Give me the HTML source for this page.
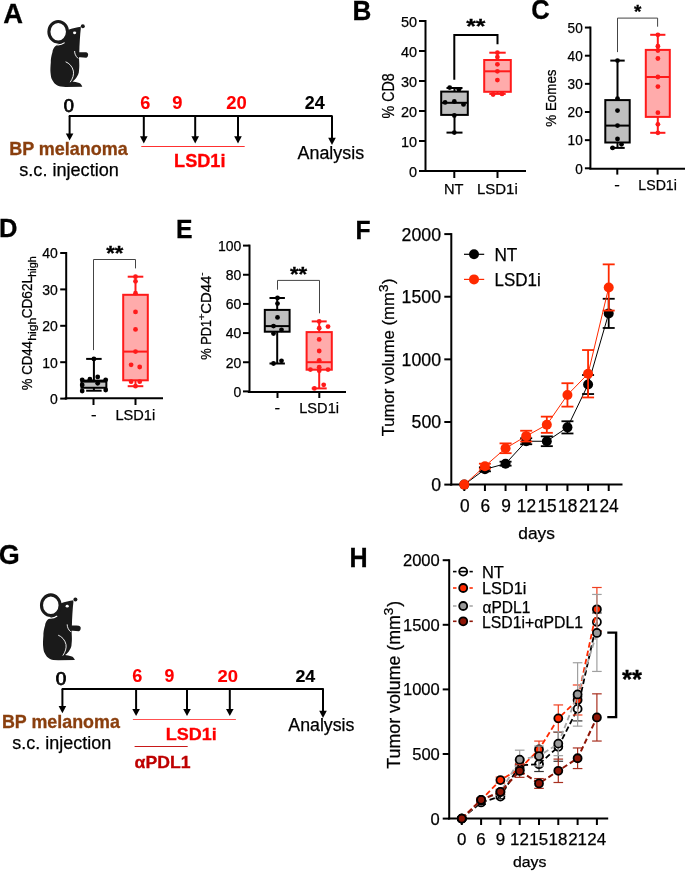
<!DOCTYPE html>
<html><head><meta charset="utf-8"><style>
html,body{margin:0;padding:0;background:#fff;}
svg{display:block;will-change:transform;}
text{font-family:"Liberation Sans",sans-serif;}
</style></head><body>
<svg width="685" height="872" viewBox="0 0 685 872">
<rect width="685" height="872" fill="#fff"/>
<text transform="translate(3.32,23.20) scale(0.1)" x="0" y="0" font-size="270.00" font-weight="bold" fill="#000" stroke="#000" stroke-width="3.00" textLength="197.25" lengthAdjust="spacingAndGlyphs">A</text>
<g transform="translate(0,0) scale(1.0)">
<path d="M55,46.4 C53.5,48 52.6,50 52.5,51.9 C51.2,56 50.7,60 50.8,62.2 C50.4,67 50.3,70 50.5,72.5 C50.8,76 51.2,78 51.9,79.3 C53,81.5 54,83 55.3,84.1 C57,85.5 59,86.3 60.8,86.5 L65.6,86.9 L82.3,86.7 C81.7,85 80.7,83.8 79.3,83.1 C77,82.2 74,82.0 72.5,81.6 C74.5,80.2 76,78.5 76.6,77.3 C78,75 78.6,73.5 78.8,72.5 C79.2,69 79.3,67 79.3,65.6 C79.3,62 79.1,60 79.0,58 L79.3,51.9 C79.5,45 80,35 80.9,27.8 L80.9,26.8 C77,27.4 72,28.6 68.5,29.8 L64,38 L58,44 Z" fill="#1a1a1a"/>
<path d="M64.6,42.6 A11.8,12.8 0 0 1 48.9,40.3" fill="none" stroke="#fff" stroke-width="1.1"/>
<ellipse cx="58.2" cy="31.8" rx="9.3" ry="10.3" fill="#fff" stroke="#1a1a1a" stroke-width="3.1"/>
<circle cx="82.8" cy="26.2" r="2.0" fill="#1a1a1a"/>
<path d="M80.6,27.3 L81.6,28.2" stroke="#fff" stroke-width="0.6"/>
<ellipse cx="74.6" cy="32.8" rx="1.6" ry="1.35" fill="#fff"/>
<path d="M75.9,51.9 C79,52.3 83,52.2 86.2,52.3 C87.8,52.6 88.5,54 88.0,55.5 C87.7,56.8 87,57.6 86.2,57.8 C83.5,57.4 80,57.1 77.3,57.5 Z" fill="#1a1a1a"/>
<path d="M74.6,51.0 C74.6,53.5 75.5,56.2 78.2,58.5" fill="none" stroke="#fff" stroke-width="0.9"/>
<path d="M65.6,61.8 C69,63 72.5,66.5 73.4,71.1 C74,74.5 72.8,78.5 70.2,82.2" fill="none" stroke="#fff" stroke-width="0.9"/>
</g>
<line x1="68.80" y1="116.00" x2="332.60" y2="116.00" stroke="#000" stroke-width="2"/>
<line x1="69.60" y1="116.00" x2="69.60" y2="134.40" stroke="#000" stroke-width="2"/>
<path d="M65.80,133.40 L73.40,133.40 L69.60,140.60 Z" fill="#000" stroke="none" stroke-width="0"/>
<line x1="143.80" y1="116.00" x2="143.80" y2="137.30" stroke="#000" stroke-width="2"/>
<path d="M140.00,136.30 L147.60,136.30 L143.80,143.50 Z" fill="#000" stroke="none" stroke-width="0"/>
<line x1="195.20" y1="116.00" x2="195.20" y2="137.30" stroke="#000" stroke-width="2"/>
<path d="M191.40,136.30 L199.00,136.30 L195.20,143.50 Z" fill="#000" stroke="none" stroke-width="0"/>
<line x1="238.00" y1="116.00" x2="238.00" y2="137.30" stroke="#000" stroke-width="2"/>
<path d="M234.20,136.30 L241.80,136.30 L238.00,143.50 Z" fill="#000" stroke="none" stroke-width="0"/>
<line x1="332.00" y1="116.00" x2="332.00" y2="138.80" stroke="#000" stroke-width="2"/>
<path d="M328.20,137.80 L335.80,137.80 L332.00,145.00 Z" fill="#000" stroke="none" stroke-width="0"/>
<text transform="translate(63.87,111.60) scale(0.1)" x="0" y="0" font-size="175.00" fill="#000" stroke="#000" stroke-width="7.50" textLength="101.96" lengthAdjust="spacingAndGlyphs">0</text>
<text transform="translate(140.26,109.10) scale(0.1)" x="0" y="0" font-size="179.00" font-weight="bold" fill="#FF0000" stroke="#FF0000" stroke-width="1.00" textLength="100.91" lengthAdjust="spacingAndGlyphs">6</text>
<text transform="translate(172.36,109.10) scale(0.1)" x="0" y="0" font-size="179.00" font-weight="bold" fill="#FF0000" stroke="#FF0000" stroke-width="1.00" textLength="102.06" lengthAdjust="spacingAndGlyphs">9</text>
<text transform="translate(226.25,109.10) scale(0.1)" x="0" y="0" font-size="180.00" font-weight="bold" fill="#FF0000" stroke="#FF0000" stroke-width="1.00" textLength="205.27" lengthAdjust="spacingAndGlyphs">20</text>
<text transform="translate(304.67,108.90) scale(0.1)" x="0" y="0" font-size="175.00" font-weight="bold" fill="#000" stroke="#000" stroke-width="1.00" textLength="199.60" lengthAdjust="spacingAndGlyphs">24</text>
<line x1="141.30" y1="146.50" x2="244.70" y2="146.50" stroke="#FF3030" stroke-width="1"/>
<text transform="translate(174.12,166.60) scale(0.1)" x="0" y="0" font-size="175.00" font-weight="bold" fill="#FF0000" stroke="#FF0000" stroke-width="3.00" textLength="513.28" lengthAdjust="spacingAndGlyphs">LSD1i</text>
<text transform="translate(9.13,155.40) scale(0.1)" x="0" y="0" font-size="177.00" font-weight="bold" fill="#8A3F0E" stroke="#8A3F0E" stroke-width="3.00" textLength="1186.95" lengthAdjust="spacingAndGlyphs">BP melanoma</text>
<text transform="translate(19.26,176.40) scale(0.1)" x="0" y="0" font-size="175.00" fill="#000" stroke="#000" stroke-width="2.50" textLength="995.64" lengthAdjust="spacingAndGlyphs">s.c. injection</text>
<text transform="translate(297.50,158.80) scale(0.1)" x="0" y="0" font-size="180.00" fill="#000" stroke="#000" stroke-width="2.50" textLength="666.04" lengthAdjust="spacingAndGlyphs">Analysis</text>
<text transform="translate(352.51,20.40) scale(0.1)" x="0" y="0" font-size="270.00" font-weight="bold" fill="#000" stroke="#000" stroke-width="3.00" textLength="188.24" lengthAdjust="spacingAndGlyphs">B</text>
<line x1="425.50" y1="20.00" x2="425.50" y2="172.00" stroke="#000" stroke-width="2"/>
<line x1="419.00" y1="171.00" x2="425.50" y2="171.00" stroke="#000" stroke-width="2"/>
<text transform="translate(408.96,176.50) scale(0.1)" x="0" y="0" font-size="155.00" fill="#000" stroke="#000" stroke-width="2.50" textLength="80.60" lengthAdjust="spacingAndGlyphs">0</text>
<line x1="419.00" y1="141.00" x2="425.50" y2="141.00" stroke="#000" stroke-width="2"/>
<text transform="translate(400.92,146.50) scale(0.1)" x="0" y="0" font-size="155.00" fill="#000" stroke="#000" stroke-width="2.50" textLength="161.21" lengthAdjust="spacingAndGlyphs">10</text>
<line x1="419.00" y1="111.00" x2="425.50" y2="111.00" stroke="#000" stroke-width="2"/>
<text transform="translate(400.92,116.50) scale(0.1)" x="0" y="0" font-size="155.00" fill="#000" stroke="#000" stroke-width="2.50" textLength="161.21" lengthAdjust="spacingAndGlyphs">20</text>
<line x1="419.00" y1="81.00" x2="425.50" y2="81.00" stroke="#000" stroke-width="2"/>
<text transform="translate(400.92,86.50) scale(0.1)" x="0" y="0" font-size="155.00" fill="#000" stroke="#000" stroke-width="2.50" textLength="161.21" lengthAdjust="spacingAndGlyphs">30</text>
<line x1="419.00" y1="51.00" x2="425.50" y2="51.00" stroke="#000" stroke-width="2"/>
<text transform="translate(400.92,56.50) scale(0.1)" x="0" y="0" font-size="155.00" fill="#000" stroke="#000" stroke-width="2.50" textLength="161.21" lengthAdjust="spacingAndGlyphs">40</text>
<line x1="419.00" y1="21.00" x2="425.50" y2="21.00" stroke="#000" stroke-width="2"/>
<text transform="translate(400.92,26.50) scale(0.1)" x="0" y="0" font-size="155.00" fill="#000" stroke="#000" stroke-width="2.50" textLength="161.21" lengthAdjust="spacingAndGlyphs">50</text>
<line x1="425.00" y1="171.00" x2="526.00" y2="171.00" stroke="#000" stroke-width="2"/>
<line x1="454.30" y1="171.00" x2="454.30" y2="178.00" stroke="#000" stroke-width="2"/>
<line x1="497.50" y1="171.00" x2="497.50" y2="178.00" stroke="#000" stroke-width="2"/>
<text transform="translate(444.03,194.00) scale(0.1)" x="0" y="0" font-size="152.00" fill="#000" stroke="#000" stroke-width="2.50" textLength="195.08" lengthAdjust="spacingAndGlyphs">NT</text>
<text transform="translate(476.90,194.00) scale(0.1)" x="0" y="0" font-size="152.00" fill="#000" stroke="#000" stroke-width="2.50" textLength="408.30" lengthAdjust="spacingAndGlyphs">LSD1i</text>
<text transform="translate(393.70,118.50) rotate(-90) scale(0.1)" x="0" y="0" font-size="158.00" fill="#000" stroke="#000" stroke-width="2.50" textLength="452.06" lengthAdjust="spacingAndGlyphs">% CD8</text>
<line x1="454.50" y1="88.00" x2="454.50" y2="132.60" stroke="#000" stroke-width="2"/>
<line x1="446.50" y1="88.00" x2="462.50" y2="88.00" stroke="#000" stroke-width="2"/>
<line x1="446.50" y1="132.60" x2="462.50" y2="132.60" stroke="#000" stroke-width="2"/>
<rect x="441.20" y="91.60" width="26.60" height="23.30" fill="#BFBFBF" stroke="#000" stroke-width="2"/>
<line x1="441.20" y1="102.80" x2="467.80" y2="102.80" stroke="#000" stroke-width="2"/>
<circle cx="449.70" cy="87.60" r="2.4" fill="#000" stroke="none" stroke-width="0"/>
<circle cx="458.90" cy="89.30" r="2.4" fill="#000" stroke="none" stroke-width="0"/>
<circle cx="445.10" cy="102.40" r="2.4" fill="#000" stroke="none" stroke-width="0"/>
<circle cx="454.30" cy="101.50" r="2.4" fill="#000" stroke="none" stroke-width="0"/>
<circle cx="463.50" cy="104.40" r="2.4" fill="#000" stroke="none" stroke-width="0"/>
<circle cx="454.30" cy="115.50" r="2.4" fill="#000" stroke="none" stroke-width="0"/>
<circle cx="454.30" cy="132.60" r="2.4" fill="#000" stroke="none" stroke-width="0"/>
<line x1="497.50" y1="52.70" x2="497.50" y2="93.90" stroke="#FF1A1A" stroke-width="2"/>
<line x1="489.30" y1="52.70" x2="505.70" y2="52.70" stroke="#FF1A1A" stroke-width="2"/>
<line x1="489.30" y1="93.90" x2="505.70" y2="93.90" stroke="#FF1A1A" stroke-width="2"/>
<rect x="484.20" y="60.00" width="26.60" height="31.80" fill="#FFABAB" stroke="#FF1A1A" stroke-width="2"/>
<line x1="484.20" y1="71.30" x2="510.80" y2="71.30" stroke="#FF1A1A" stroke-width="2"/>
<circle cx="497.40" cy="52.70" r="2.4" fill="#FF1A1A" stroke="none" stroke-width="0"/>
<circle cx="497.40" cy="57.10" r="2.4" fill="#FF1A1A" stroke="none" stroke-width="0"/>
<circle cx="497.40" cy="64.30" r="2.4" fill="#FF1A1A" stroke="none" stroke-width="0"/>
<circle cx="497.40" cy="71.30" r="2.4" fill="#FF1A1A" stroke="none" stroke-width="0"/>
<circle cx="497.40" cy="80.10" r="2.4" fill="#FF1A1A" stroke="none" stroke-width="0"/>
<circle cx="493.10" cy="94.50" r="2.4" fill="#FF1A1A" stroke="none" stroke-width="0"/>
<circle cx="502.00" cy="93.90" r="2.4" fill="#FF1A1A" stroke="none" stroke-width="0"/>
<path d="M454.3,79.8 L454.3,35.1 L497.5,35.1 L497.5,44.3" fill="none" stroke="#000" stroke-width="2"/>
<text transform="translate(466.28,33.11) scale(0.1)" x="0" y="0" font-size="197.30" font-weight="bold" fill="#000" stroke="#000" stroke-width="3.00" textLength="192.04" lengthAdjust="spacingAndGlyphs">**</text>
<text transform="translate(531.18,19.40) scale(0.1)" x="0" y="0" font-size="270.00" font-weight="bold" fill="#000" stroke="#000" stroke-width="3.00" textLength="184.13" lengthAdjust="spacingAndGlyphs">C</text>
<line x1="590.40" y1="26.55" x2="590.40" y2="169.30" stroke="#000" stroke-width="2"/>
<line x1="584.90" y1="168.30" x2="590.40" y2="168.30" stroke="#000" stroke-width="2"/>
<text transform="translate(575.13,173.59) scale(0.1)" x="0" y="0" font-size="149.00" fill="#000" stroke="#000" stroke-width="2.50" textLength="75.66" lengthAdjust="spacingAndGlyphs">0</text>
<line x1="584.90" y1="140.15" x2="590.40" y2="140.15" stroke="#000" stroke-width="2"/>
<text transform="translate(567.58,145.44) scale(0.1)" x="0" y="0" font-size="149.00" fill="#000" stroke="#000" stroke-width="2.50" textLength="151.32" lengthAdjust="spacingAndGlyphs">10</text>
<line x1="584.90" y1="112.00" x2="590.40" y2="112.00" stroke="#000" stroke-width="2"/>
<text transform="translate(567.58,117.29) scale(0.1)" x="0" y="0" font-size="149.00" fill="#000" stroke="#000" stroke-width="2.50" textLength="151.32" lengthAdjust="spacingAndGlyphs">20</text>
<line x1="584.90" y1="83.85" x2="590.40" y2="83.85" stroke="#000" stroke-width="2"/>
<text transform="translate(567.58,89.14) scale(0.1)" x="0" y="0" font-size="149.00" fill="#000" stroke="#000" stroke-width="2.50" textLength="151.32" lengthAdjust="spacingAndGlyphs">30</text>
<line x1="584.90" y1="55.70" x2="590.40" y2="55.70" stroke="#000" stroke-width="2"/>
<text transform="translate(567.58,60.99) scale(0.1)" x="0" y="0" font-size="149.00" fill="#000" stroke="#000" stroke-width="2.50" textLength="151.32" lengthAdjust="spacingAndGlyphs">40</text>
<line x1="584.90" y1="27.55" x2="590.40" y2="27.55" stroke="#000" stroke-width="2"/>
<text transform="translate(567.58,32.84) scale(0.1)" x="0" y="0" font-size="149.00" fill="#000" stroke="#000" stroke-width="2.50" textLength="151.32" lengthAdjust="spacingAndGlyphs">50</text>
<line x1="589.40" y1="168.80" x2="685.00" y2="168.80" stroke="#000" stroke-width="2"/>
<line x1="617.30" y1="168.80" x2="617.30" y2="174.60" stroke="#000" stroke-width="2"/>
<line x1="657.60" y1="168.80" x2="657.60" y2="174.60" stroke="#000" stroke-width="2"/>
<text transform="translate(614.35,190.10) scale(0.1)" x="0" y="0" font-size="146.00" fill="#000" stroke="#000" stroke-width="2.50" textLength="55.73" lengthAdjust="spacingAndGlyphs">-</text>
<text transform="translate(638.37,190.10) scale(0.1)" x="0" y="0" font-size="146.00" fill="#000" stroke="#000" stroke-width="2.50" textLength="385.03" lengthAdjust="spacingAndGlyphs">LSD1i</text>
<text transform="translate(555.90,126.67) rotate(-90) scale(0.1)" x="0" y="0" font-size="138.00" fill="#000" stroke="#000" stroke-width="2.50" textLength="572.28" lengthAdjust="spacingAndGlyphs">% Eomes</text>
<line x1="617.50" y1="60.60" x2="617.50" y2="147.90" stroke="#000" stroke-width="2"/>
<line x1="610.30" y1="60.60" x2="624.70" y2="60.60" stroke="#000" stroke-width="2"/>
<line x1="610.30" y1="147.90" x2="624.70" y2="147.90" stroke="#000" stroke-width="2"/>
<rect x="605.30" y="100.10" width="24.40" height="42.40" fill="#BFBFBF" stroke="#000" stroke-width="2"/>
<line x1="605.30" y1="125.60" x2="629.70" y2="125.60" stroke="#000" stroke-width="2"/>
<circle cx="617.50" cy="60.60" r="2.4" fill="#000" stroke="none" stroke-width="0"/>
<circle cx="617.50" cy="98.60" r="2.4" fill="#000" stroke="none" stroke-width="0"/>
<circle cx="617.50" cy="110.60" r="2.4" fill="#000" stroke="none" stroke-width="0"/>
<circle cx="617.50" cy="125.60" r="2.4" fill="#000" stroke="none" stroke-width="0"/>
<circle cx="617.50" cy="139.00" r="2.4" fill="#000" stroke="none" stroke-width="0"/>
<circle cx="612.60" cy="147.90" r="2.4" fill="#000" stroke="none" stroke-width="0"/>
<circle cx="621.50" cy="144.30" r="2.4" fill="#000" stroke="none" stroke-width="0"/>
<line x1="657.80" y1="34.80" x2="657.80" y2="132.80" stroke="#FF1A1A" stroke-width="2"/>
<line x1="650.20" y1="34.80" x2="665.40" y2="34.80" stroke="#FF1A1A" stroke-width="2"/>
<line x1="650.20" y1="132.80" x2="665.40" y2="132.80" stroke="#FF1A1A" stroke-width="2"/>
<rect x="645.80" y="49.90" width="24.00" height="67.00" fill="#FFABAB" stroke="#FF1A1A" stroke-width="2"/>
<line x1="645.80" y1="77.00" x2="669.80" y2="77.00" stroke="#FF1A1A" stroke-width="2"/>
<circle cx="657.90" cy="34.80" r="2.4" fill="#FF1A1A" stroke="none" stroke-width="0"/>
<circle cx="657.90" cy="46.20" r="2.4" fill="#FF1A1A" stroke="none" stroke-width="0"/>
<circle cx="657.90" cy="50.50" r="2.4" fill="#FF1A1A" stroke="none" stroke-width="0"/>
<circle cx="657.90" cy="58.50" r="2.4" fill="#FF1A1A" stroke="none" stroke-width="0"/>
<circle cx="657.90" cy="77.00" r="2.4" fill="#FF1A1A" stroke="none" stroke-width="0"/>
<circle cx="657.90" cy="86.60" r="2.4" fill="#FF1A1A" stroke="none" stroke-width="0"/>
<circle cx="657.90" cy="112.70" r="2.4" fill="#FF1A1A" stroke="none" stroke-width="0"/>
<circle cx="657.90" cy="124.30" r="2.4" fill="#FF1A1A" stroke="none" stroke-width="0"/>
<circle cx="657.90" cy="132.80" r="2.4" fill="#FF1A1A" stroke="none" stroke-width="0"/>
<path d="M617.5,52.1 L617.5,18.1 L657.6,18.1 L657.6,26.7" fill="none" stroke="#444" stroke-width="1"/>
<text transform="translate(633.91,17.79) scale(0.1)" x="0" y="0" font-size="181.10" font-weight="bold" fill="#000" stroke="#000" stroke-width="3.00" textLength="73.73" lengthAdjust="spacingAndGlyphs">*</text>
<text transform="translate(-0.96,236.50) scale(0.1)" x="0" y="0" font-size="267.00" font-weight="bold" fill="#000" stroke="#000" stroke-width="3.00" textLength="184.36" lengthAdjust="spacingAndGlyphs">D</text>
<line x1="66.20" y1="252.00" x2="66.20" y2="399.60" stroke="#000" stroke-width="2"/>
<line x1="60.20" y1="398.60" x2="66.20" y2="398.60" stroke="#000" stroke-width="2"/>
<text transform="translate(50.02,403.93) scale(0.1)" x="0" y="0" font-size="150.00" fill="#000" stroke="#000" stroke-width="2.50" textLength="77.84" lengthAdjust="spacingAndGlyphs">0</text>
<line x1="60.20" y1="362.20" x2="66.20" y2="362.20" stroke="#000" stroke-width="2"/>
<text transform="translate(42.26,367.53) scale(0.1)" x="0" y="0" font-size="150.00" fill="#000" stroke="#000" stroke-width="2.50" textLength="155.67" lengthAdjust="spacingAndGlyphs">10</text>
<line x1="60.20" y1="325.80" x2="66.20" y2="325.80" stroke="#000" stroke-width="2"/>
<text transform="translate(42.26,331.12) scale(0.1)" x="0" y="0" font-size="150.00" fill="#000" stroke="#000" stroke-width="2.50" textLength="155.67" lengthAdjust="spacingAndGlyphs">20</text>
<line x1="60.20" y1="289.40" x2="66.20" y2="289.40" stroke="#000" stroke-width="2"/>
<text transform="translate(42.26,294.73) scale(0.1)" x="0" y="0" font-size="150.00" fill="#000" stroke="#000" stroke-width="2.50" textLength="155.67" lengthAdjust="spacingAndGlyphs">30</text>
<line x1="60.20" y1="253.00" x2="66.20" y2="253.00" stroke="#000" stroke-width="2"/>
<text transform="translate(42.26,258.33) scale(0.1)" x="0" y="0" font-size="150.00" fill="#000" stroke="#000" stroke-width="2.50" textLength="155.67" lengthAdjust="spacingAndGlyphs">40</text>
<line x1="64.70" y1="398.30" x2="163.00" y2="398.30" stroke="#000" stroke-width="2"/>
<line x1="93.50" y1="398.30" x2="93.50" y2="405.00" stroke="#000" stroke-width="2"/>
<line x1="135.50" y1="398.30" x2="135.50" y2="405.00" stroke="#000" stroke-width="2"/>
<text transform="translate(91.05,420.10) scale(0.1)" x="0" y="0" font-size="150.00" fill="#000" stroke="#000" stroke-width="2.50" textLength="55.73" lengthAdjust="spacingAndGlyphs">-</text>
<text transform="translate(115.43,420.10) scale(0.1)" x="0" y="0" font-size="150.00" fill="#000" stroke="#000" stroke-width="2.50" textLength="397.72" lengthAdjust="spacingAndGlyphs">LSD1i</text>
<line x1="93.90" y1="358.90" x2="93.90" y2="390.70" stroke="#000" stroke-width="2"/>
<line x1="86.15" y1="358.90" x2="101.65" y2="358.90" stroke="#000" stroke-width="2"/>
<line x1="86.15" y1="390.70" x2="101.65" y2="390.70" stroke="#000" stroke-width="2"/>
<rect x="81.45" y="380.60" width="24.90" height="7.20" fill="#BFBFBF" stroke="#000" stroke-width="2"/>
<line x1="81.45" y1="381.60" x2="106.35" y2="381.60" stroke="#000" stroke-width="2"/>
<circle cx="82.20" cy="379.80" r="2.4" fill="#000" stroke="none" stroke-width="0"/>
<circle cx="82.20" cy="385.00" r="2.4" fill="#000" stroke="none" stroke-width="0"/>
<circle cx="82.20" cy="391.00" r="2.4" fill="#000" stroke="none" stroke-width="0"/>
<circle cx="89.90" cy="379.20" r="2.4" fill="#000" stroke="none" stroke-width="0"/>
<circle cx="97.70" cy="376.90" r="2.4" fill="#000" stroke="none" stroke-width="0"/>
<circle cx="97.70" cy="383.30" r="2.4" fill="#000" stroke="none" stroke-width="0"/>
<circle cx="105.70" cy="379.80" r="2.4" fill="#000" stroke="none" stroke-width="0"/>
<circle cx="105.70" cy="390.00" r="2.4" fill="#000" stroke="none" stroke-width="0"/>
<circle cx="93.90" cy="358.90" r="2.4" fill="#000" stroke="none" stroke-width="0"/>
<line x1="135.50" y1="276.70" x2="135.50" y2="386.20" stroke="#FF1A1A" stroke-width="2"/>
<line x1="127.70" y1="276.70" x2="143.30" y2="276.70" stroke="#FF1A1A" stroke-width="2"/>
<line x1="127.70" y1="386.20" x2="143.30" y2="386.20" stroke="#FF1A1A" stroke-width="2"/>
<rect x="123.20" y="294.80" width="24.60" height="85.50" fill="#FFABAB" stroke="#FF1A1A" stroke-width="2"/>
<line x1="123.20" y1="351.60" x2="147.80" y2="351.60" stroke="#FF1A1A" stroke-width="2"/>
<circle cx="135.50" cy="276.70" r="2.4" fill="#FF1A1A" stroke="none" stroke-width="0"/>
<circle cx="135.50" cy="281.30" r="2.4" fill="#FF1A1A" stroke="none" stroke-width="0"/>
<circle cx="135.50" cy="293.20" r="2.4" fill="#FF1A1A" stroke="none" stroke-width="0"/>
<circle cx="135.50" cy="311.90" r="2.4" fill="#FF1A1A" stroke="none" stroke-width="0"/>
<circle cx="135.50" cy="329.40" r="2.4" fill="#FF1A1A" stroke="none" stroke-width="0"/>
<circle cx="135.50" cy="351.60" r="2.4" fill="#FF1A1A" stroke="none" stroke-width="0"/>
<circle cx="131.10" cy="364.80" r="2.4" fill="#FF1A1A" stroke="none" stroke-width="0"/>
<circle cx="139.70" cy="367.00" r="2.4" fill="#FF1A1A" stroke="none" stroke-width="0"/>
<circle cx="131.10" cy="381.70" r="2.4" fill="#FF1A1A" stroke="none" stroke-width="0"/>
<circle cx="139.70" cy="381.70" r="2.4" fill="#FF1A1A" stroke="none" stroke-width="0"/>
<circle cx="135.50" cy="386.20" r="2.4" fill="#FF1A1A" stroke="none" stroke-width="0"/>
<path d="M93.5,350.1 L93.5,259.5 L135.5,259.5 L135.5,268.4" fill="none" stroke="#444" stroke-width="1"/>
<text transform="translate(106.19,260.20) scale(0.1)" x="0" y="0" font-size="200.00" font-weight="bold" fill="#000" stroke="#000" stroke-width="3.00" textLength="170.82" lengthAdjust="spacingAndGlyphs">**</text>
<text transform="translate(31.80,390.16) rotate(-90) scale(0.1)" x="0" y="0" font-size="140.00" fill="#000" stroke="#000" stroke-width="2.50" textLength="490.39" lengthAdjust="spacingAndGlyphs">% CD44</text>
<text transform="translate(36.30,340.85) rotate(-90) scale(0.1)" x="0" y="0" font-size="100.00" fill="#000" stroke="#000" stroke-width="2.50" textLength="230.55" lengthAdjust="spacingAndGlyphs">high</text>
<text transform="translate(31.80,318.28) rotate(-90) scale(0.1)" x="0" y="0" font-size="140.00" fill="#000" stroke="#000" stroke-width="2.50" textLength="423.27" lengthAdjust="spacingAndGlyphs">CD62L</text>
<text transform="translate(36.30,276.66) rotate(-90) scale(0.1)" x="0" y="0" font-size="100.00" fill="#000" stroke="#000" stroke-width="2.50" textLength="204.69" lengthAdjust="spacingAndGlyphs">high</text>
<text transform="translate(176.09,238.20) scale(0.1)" x="0" y="0" font-size="267.00" font-weight="bold" fill="#000" stroke="#000" stroke-width="3.00" textLength="165.28" lengthAdjust="spacingAndGlyphs">E</text>
<line x1="249.50" y1="244.60" x2="249.50" y2="392.40" stroke="#000" stroke-width="2"/>
<line x1="243.00" y1="391.40" x2="249.50" y2="391.40" stroke="#000" stroke-width="2"/>
<text transform="translate(233.52,396.72) scale(0.1)" x="0" y="0" font-size="150.00" fill="#000" stroke="#000" stroke-width="2.50" textLength="77.84" lengthAdjust="spacingAndGlyphs">0</text>
<line x1="243.00" y1="362.24" x2="249.50" y2="362.24" stroke="#000" stroke-width="2"/>
<text transform="translate(225.76,367.56) scale(0.1)" x="0" y="0" font-size="150.00" fill="#000" stroke="#000" stroke-width="2.50" textLength="155.67" lengthAdjust="spacingAndGlyphs">20</text>
<line x1="243.00" y1="333.08" x2="249.50" y2="333.08" stroke="#000" stroke-width="2"/>
<text transform="translate(225.76,338.40) scale(0.1)" x="0" y="0" font-size="150.00" fill="#000" stroke="#000" stroke-width="2.50" textLength="155.67" lengthAdjust="spacingAndGlyphs">40</text>
<line x1="243.00" y1="303.92" x2="249.50" y2="303.92" stroke="#000" stroke-width="2"/>
<text transform="translate(225.76,309.24) scale(0.1)" x="0" y="0" font-size="150.00" fill="#000" stroke="#000" stroke-width="2.50" textLength="155.67" lengthAdjust="spacingAndGlyphs">60</text>
<line x1="243.00" y1="274.76" x2="249.50" y2="274.76" stroke="#000" stroke-width="2"/>
<text transform="translate(225.76,280.08) scale(0.1)" x="0" y="0" font-size="150.00" fill="#000" stroke="#000" stroke-width="2.50" textLength="155.67" lengthAdjust="spacingAndGlyphs">80</text>
<line x1="243.00" y1="245.60" x2="249.50" y2="245.60" stroke="#000" stroke-width="2"/>
<text transform="translate(217.99,250.92) scale(0.1)" x="0" y="0" font-size="150.00" fill="#000" stroke="#000" stroke-width="2.50" textLength="233.51" lengthAdjust="spacingAndGlyphs">100</text>
<line x1="247.80" y1="391.90" x2="346.00" y2="391.90" stroke="#000" stroke-width="2"/>
<line x1="277.50" y1="391.90" x2="277.50" y2="398.00" stroke="#000" stroke-width="2"/>
<line x1="319.30" y1="391.90" x2="319.30" y2="398.00" stroke="#000" stroke-width="2"/>
<text transform="translate(274.45,413.20) scale(0.1)" x="0" y="0" font-size="150.00" fill="#000" stroke="#000" stroke-width="2.50" textLength="55.73" lengthAdjust="spacingAndGlyphs">-</text>
<text transform="translate(299.23,413.20) scale(0.1)" x="0" y="0" font-size="150.00" fill="#000" stroke="#000" stroke-width="2.50" textLength="397.72" lengthAdjust="spacingAndGlyphs">LSD1i</text>
<line x1="277.20" y1="298.00" x2="277.20" y2="363.50" stroke="#000" stroke-width="2"/>
<line x1="269.50" y1="298.00" x2="284.90" y2="298.00" stroke="#000" stroke-width="2"/>
<line x1="269.50" y1="363.50" x2="284.90" y2="363.50" stroke="#000" stroke-width="2"/>
<rect x="264.80" y="309.90" width="24.80" height="21.80" fill="#BFBFBF" stroke="#000" stroke-width="2"/>
<line x1="264.80" y1="326.10" x2="289.60" y2="326.10" stroke="#000" stroke-width="2"/>
<circle cx="277.50" cy="298.00" r="2.4" fill="#000" stroke="none" stroke-width="0"/>
<circle cx="277.50" cy="303.60" r="2.4" fill="#000" stroke="none" stroke-width="0"/>
<circle cx="277.50" cy="317.40" r="2.4" fill="#000" stroke="none" stroke-width="0"/>
<circle cx="273.50" cy="326.10" r="2.4" fill="#000" stroke="none" stroke-width="0"/>
<circle cx="281.50" cy="329.80" r="2.4" fill="#000" stroke="none" stroke-width="0"/>
<circle cx="273.50" cy="333.50" r="2.4" fill="#000" stroke="none" stroke-width="0"/>
<circle cx="273.50" cy="363.50" r="2.4" fill="#000" stroke="none" stroke-width="0"/>
<circle cx="281.50" cy="360.80" r="2.4" fill="#000" stroke="none" stroke-width="0"/>
<line x1="319.20" y1="321.40" x2="319.20" y2="388.40" stroke="#FF1A1A" stroke-width="2"/>
<line x1="311.70" y1="321.40" x2="326.70" y2="321.40" stroke="#FF1A1A" stroke-width="2"/>
<line x1="311.70" y1="388.40" x2="326.70" y2="388.40" stroke="#FF1A1A" stroke-width="2"/>
<rect x="306.60" y="332.10" width="25.20" height="37.60" fill="#FFABAB" stroke="#FF1A1A" stroke-width="2"/>
<line x1="306.60" y1="362.20" x2="331.80" y2="362.20" stroke="#FF1A1A" stroke-width="2"/>
<circle cx="319.20" cy="321.40" r="2.4" fill="#FF1A1A" stroke="none" stroke-width="0"/>
<circle cx="328.00" cy="326.60" r="2.4" fill="#FF1A1A" stroke="none" stroke-width="0"/>
<circle cx="319.20" cy="328.20" r="2.4" fill="#FF1A1A" stroke="none" stroke-width="0"/>
<circle cx="319.20" cy="339.40" r="2.4" fill="#FF1A1A" stroke="none" stroke-width="0"/>
<circle cx="319.20" cy="351.00" r="2.4" fill="#FF1A1A" stroke="none" stroke-width="0"/>
<circle cx="319.20" cy="360.30" r="2.4" fill="#FF1A1A" stroke="none" stroke-width="0"/>
<circle cx="319.20" cy="367.20" r="2.4" fill="#FF1A1A" stroke="none" stroke-width="0"/>
<circle cx="310.40" cy="369.60" r="2.4" fill="#FF1A1A" stroke="none" stroke-width="0"/>
<circle cx="328.00" cy="369.60" r="2.4" fill="#FF1A1A" stroke="none" stroke-width="0"/>
<circle cx="319.20" cy="370.70" r="2.4" fill="#FF1A1A" stroke="none" stroke-width="0"/>
<circle cx="323.70" cy="384.80" r="2.4" fill="#FF1A1A" stroke="none" stroke-width="0"/>
<circle cx="314.40" cy="388.40" r="2.4" fill="#FF1A1A" stroke="none" stroke-width="0"/>
<path d="M277.5,289.7 L277.5,280.4 L319.5,280.4 L319.5,313.3" fill="none" stroke="#444" stroke-width="1"/>
<text transform="translate(289.89,280.63) scale(0.1)" x="0" y="0" font-size="194.60" font-weight="bold" fill="#000" stroke="#000" stroke-width="3.00" textLength="172.84" lengthAdjust="spacingAndGlyphs">**</text>
<text transform="translate(210.50,359.85) rotate(-90) scale(0.1)" x="0" y="0" font-size="143.00" fill="#000" stroke="#000" stroke-width="2.50" textLength="399.57" lengthAdjust="spacingAndGlyphs">% PD1</text>
<text transform="translate(205.00,320.42) rotate(-90) scale(0.1)" x="0" y="0" font-size="95.00" fill="#000" stroke="#000" stroke-width="2.50" textLength="72.25" lengthAdjust="spacingAndGlyphs">+</text>
<text transform="translate(210.50,313.74) rotate(-90) scale(0.1)" x="0" y="0" font-size="143.00" fill="#000" stroke="#000" stroke-width="2.50" textLength="379.12" lengthAdjust="spacingAndGlyphs">CD44</text>
<text transform="translate(204.50,275.74) rotate(-90) scale(0.1)" x="0" y="0" font-size="95.00" fill="#000" stroke="#000" stroke-width="2.50" textLength="32.63" lengthAdjust="spacingAndGlyphs">-</text>
<text transform="translate(355.39,239.30) scale(0.1)" x="0" y="0" font-size="267.00" font-weight="bold" fill="#000" stroke="#000" stroke-width="3.00" textLength="150.92" lengthAdjust="spacingAndGlyphs">F</text>
<line x1="451.30" y1="233.10" x2="451.30" y2="485.60" stroke="#000" stroke-width="2"/>
<line x1="444.30" y1="484.60" x2="451.30" y2="484.60" stroke="#000" stroke-width="2"/>
<text transform="translate(431.19,491.10) scale(0.1)" x="0" y="0" font-size="183.00" fill="#000" stroke="#000" stroke-width="2.50" textLength="98.52" lengthAdjust="spacingAndGlyphs">0</text>
<line x1="444.30" y1="421.98" x2="451.30" y2="421.98" stroke="#000" stroke-width="2"/>
<text transform="translate(411.53,428.47) scale(0.1)" x="0" y="0" font-size="183.00" fill="#000" stroke="#000" stroke-width="2.50" textLength="295.57" lengthAdjust="spacingAndGlyphs">500</text>
<line x1="444.30" y1="359.35" x2="451.30" y2="359.35" stroke="#000" stroke-width="2"/>
<text transform="translate(401.61,365.85) scale(0.1)" x="0" y="0" font-size="183.00" fill="#000" stroke="#000" stroke-width="2.50" textLength="394.09" lengthAdjust="spacingAndGlyphs">1000</text>
<line x1="444.30" y1="296.73" x2="451.30" y2="296.73" stroke="#000" stroke-width="2"/>
<text transform="translate(401.61,303.22) scale(0.1)" x="0" y="0" font-size="183.00" fill="#000" stroke="#000" stroke-width="2.50" textLength="394.09" lengthAdjust="spacingAndGlyphs">1500</text>
<line x1="444.30" y1="234.10" x2="451.30" y2="234.10" stroke="#000" stroke-width="2"/>
<text transform="translate(401.61,240.60) scale(0.1)" x="0" y="0" font-size="183.00" fill="#000" stroke="#000" stroke-width="2.50" textLength="394.09" lengthAdjust="spacingAndGlyphs">2000</text>
<line x1="450.30" y1="484.60" x2="622.50" y2="484.60" stroke="#000" stroke-width="2"/>
<line x1="464.30" y1="484.60" x2="464.30" y2="491.00" stroke="#000" stroke-width="2"/>
<text transform="translate(459.95,511.60) scale(0.1)" x="0" y="0" font-size="176.00" fill="#000" stroke="#000" stroke-width="2.50" textLength="96.42" lengthAdjust="spacingAndGlyphs">0</text>
<line x1="484.93" y1="484.60" x2="484.93" y2="491.00" stroke="#000" stroke-width="2"/>
<text transform="translate(480.53,511.60) scale(0.1)" x="0" y="0" font-size="176.00" fill="#000" stroke="#000" stroke-width="2.50" textLength="96.42" lengthAdjust="spacingAndGlyphs">6</text>
<line x1="505.56" y1="484.60" x2="505.56" y2="491.00" stroke="#000" stroke-width="2"/>
<text transform="translate(501.25,511.60) scale(0.1)" x="0" y="0" font-size="176.00" fill="#000" stroke="#000" stroke-width="2.50" textLength="96.42" lengthAdjust="spacingAndGlyphs">9</text>
<line x1="526.19" y1="484.60" x2="526.19" y2="491.00" stroke="#000" stroke-width="2"/>
<text transform="translate(516.85,511.60) scale(0.1)" x="0" y="0" font-size="176.00" fill="#000" stroke="#000" stroke-width="2.50" textLength="192.84" lengthAdjust="spacingAndGlyphs">12</text>
<line x1="546.82" y1="484.60" x2="546.82" y2="491.00" stroke="#000" stroke-width="2"/>
<text transform="translate(537.40,511.60) scale(0.1)" x="0" y="0" font-size="176.00" fill="#000" stroke="#000" stroke-width="2.50" textLength="192.84" lengthAdjust="spacingAndGlyphs">15</text>
<line x1="567.45" y1="484.60" x2="567.45" y2="491.00" stroke="#000" stroke-width="2"/>
<text transform="translate(558.03,511.60) scale(0.1)" x="0" y="0" font-size="176.00" fill="#000" stroke="#000" stroke-width="2.50" textLength="192.84" lengthAdjust="spacingAndGlyphs">18</text>
<line x1="588.08" y1="484.60" x2="588.08" y2="491.00" stroke="#000" stroke-width="2"/>
<text transform="translate(578.92,511.60) scale(0.1)" x="0" y="0" font-size="176.00" fill="#000" stroke="#000" stroke-width="2.50" textLength="192.84" lengthAdjust="spacingAndGlyphs">21</text>
<line x1="608.71" y1="484.60" x2="608.71" y2="491.00" stroke="#000" stroke-width="2"/>
<text transform="translate(599.42,511.60) scale(0.1)" x="0" y="0" font-size="176.00" fill="#000" stroke="#000" stroke-width="2.50" textLength="192.84" lengthAdjust="spacingAndGlyphs">24</text>
<text transform="translate(518.31,538.80) scale(0.1)" x="0" y="0" font-size="174.00" fill="#000" stroke="#000" stroke-width="2.50" textLength="366.42" lengthAdjust="spacingAndGlyphs">days</text>
<text transform="translate(393.80,436.33) rotate(-90) scale(0.1)" x="0" y="0" font-size="168.00" fill="#000" stroke="#000" stroke-width="2.50" textLength="1442.49" lengthAdjust="spacingAndGlyphs">Tumor volume (mm</text>
<text transform="translate(387.50,292.04) rotate(-90) scale(0.1)" x="0" y="0" font-size="125.00" fill="#000" stroke="#000" stroke-width="2.50" textLength="74.94" lengthAdjust="spacingAndGlyphs">3</text>
<text transform="translate(393.80,283.88) rotate(-90) scale(0.1)" x="0" y="0" font-size="168.00" fill="#000" stroke="#000" stroke-width="2.50" textLength="55.30" lengthAdjust="spacingAndGlyphs">)</text>
<line x1="484.93" y1="467.32" x2="484.93" y2="471.32" stroke="#000" stroke-width="1.8"/>
<line x1="478.93" y1="467.32" x2="490.93" y2="467.32" stroke="#000" stroke-width="1.8"/>
<line x1="478.93" y1="471.32" x2="490.93" y2="471.32" stroke="#000" stroke-width="1.8"/>
<line x1="505.56" y1="461.68" x2="505.56" y2="465.68" stroke="#000" stroke-width="1.8"/>
<line x1="499.56" y1="461.68" x2="511.56" y2="461.68" stroke="#000" stroke-width="1.8"/>
<line x1="499.56" y1="465.68" x2="511.56" y2="465.68" stroke="#000" stroke-width="1.8"/>
<line x1="526.19" y1="438.26" x2="526.19" y2="444.26" stroke="#000" stroke-width="1.8"/>
<line x1="520.19" y1="438.26" x2="532.19" y2="438.26" stroke="#000" stroke-width="1.8"/>
<line x1="520.19" y1="444.26" x2="532.19" y2="444.26" stroke="#000" stroke-width="1.8"/>
<line x1="546.82" y1="436.36" x2="546.82" y2="446.16" stroke="#000" stroke-width="1.8"/>
<line x1="540.82" y1="436.36" x2="552.82" y2="436.36" stroke="#000" stroke-width="1.8"/>
<line x1="540.82" y1="446.16" x2="552.82" y2="446.16" stroke="#000" stroke-width="1.8"/>
<line x1="567.45" y1="421.26" x2="567.45" y2="433.46" stroke="#000" stroke-width="1.8"/>
<line x1="561.45" y1="421.26" x2="573.45" y2="421.26" stroke="#000" stroke-width="1.8"/>
<line x1="561.45" y1="433.46" x2="573.45" y2="433.46" stroke="#000" stroke-width="1.8"/>
<line x1="588.08" y1="375.03" x2="588.08" y2="394.03" stroke="#000" stroke-width="1.8"/>
<line x1="582.08" y1="375.03" x2="594.08" y2="375.03" stroke="#000" stroke-width="1.8"/>
<line x1="582.08" y1="394.03" x2="594.08" y2="394.03" stroke="#000" stroke-width="1.8"/>
<line x1="608.71" y1="298.78" x2="608.71" y2="327.98" stroke="#000" stroke-width="1.8"/>
<line x1="602.71" y1="298.78" x2="614.71" y2="298.78" stroke="#000" stroke-width="1.8"/>
<line x1="602.71" y1="327.98" x2="614.71" y2="327.98" stroke="#000" stroke-width="1.8"/>
<polyline points="464.30,484.60 484.93,469.32 505.56,463.68 526.19,441.26 546.82,441.26 567.45,427.36 588.08,384.53 608.71,313.38" fill="none" stroke="#000" stroke-width="1"/>
<circle cx="464.30" cy="484.60" r="5" fill="#000" stroke="none" stroke-width="0"/>
<circle cx="484.93" cy="469.32" r="5" fill="#000" stroke="none" stroke-width="0"/>
<circle cx="505.56" cy="463.68" r="5" fill="#000" stroke="none" stroke-width="0"/>
<circle cx="526.19" cy="441.26" r="5" fill="#000" stroke="none" stroke-width="0"/>
<circle cx="546.82" cy="441.26" r="5" fill="#000" stroke="none" stroke-width="0"/>
<circle cx="567.45" cy="427.36" r="5" fill="#000" stroke="none" stroke-width="0"/>
<circle cx="588.08" cy="384.53" r="5" fill="#000" stroke="none" stroke-width="0"/>
<circle cx="608.71" cy="313.38" r="5" fill="#000" stroke="none" stroke-width="0"/>
<line x1="484.93" y1="463.69" x2="484.93" y2="468.69" stroke="#FF2A00" stroke-width="1.8"/>
<line x1="478.93" y1="463.69" x2="490.93" y2="463.69" stroke="#FF2A00" stroke-width="1.8"/>
<line x1="478.93" y1="468.69" x2="490.93" y2="468.69" stroke="#FF2A00" stroke-width="1.8"/>
<line x1="505.56" y1="443.38" x2="505.56" y2="453.18" stroke="#FF2A00" stroke-width="1.8"/>
<line x1="499.56" y1="443.38" x2="511.56" y2="443.38" stroke="#FF2A00" stroke-width="1.8"/>
<line x1="499.56" y1="453.18" x2="511.56" y2="453.18" stroke="#FF2A00" stroke-width="1.8"/>
<line x1="526.19" y1="430.73" x2="526.19" y2="441.53" stroke="#FF2A00" stroke-width="1.8"/>
<line x1="520.19" y1="430.73" x2="532.19" y2="430.73" stroke="#FF2A00" stroke-width="1.8"/>
<line x1="520.19" y1="441.53" x2="532.19" y2="441.53" stroke="#FF2A00" stroke-width="1.8"/>
<line x1="546.82" y1="416.63" x2="546.82" y2="432.83" stroke="#FF2A00" stroke-width="1.8"/>
<line x1="540.82" y1="416.63" x2="552.82" y2="416.63" stroke="#FF2A00" stroke-width="1.8"/>
<line x1="540.82" y1="432.83" x2="552.82" y2="432.83" stroke="#FF2A00" stroke-width="1.8"/>
<line x1="567.45" y1="383.22" x2="567.45" y2="406.62" stroke="#FF2A00" stroke-width="1.8"/>
<line x1="561.45" y1="383.22" x2="573.45" y2="383.22" stroke="#FF2A00" stroke-width="1.8"/>
<line x1="561.45" y1="406.62" x2="573.45" y2="406.62" stroke="#FF2A00" stroke-width="1.8"/>
<line x1="588.08" y1="350.05" x2="588.08" y2="397.45" stroke="#FF2A00" stroke-width="1.8"/>
<line x1="582.08" y1="350.05" x2="594.08" y2="350.05" stroke="#FF2A00" stroke-width="1.8"/>
<line x1="582.08" y1="397.45" x2="594.08" y2="397.45" stroke="#FF2A00" stroke-width="1.8"/>
<line x1="608.71" y1="264.36" x2="608.71" y2="310.56" stroke="#FF2A00" stroke-width="1.8"/>
<line x1="602.71" y1="264.36" x2="614.71" y2="264.36" stroke="#FF2A00" stroke-width="1.8"/>
<line x1="602.71" y1="310.56" x2="614.71" y2="310.56" stroke="#FF2A00" stroke-width="1.8"/>
<polyline points="464.30,484.60 484.93,466.19 505.56,448.28 526.19,436.13 546.82,424.73 567.45,394.92 588.08,373.75 608.71,287.46" fill="none" stroke="#FF2A00" stroke-width="1"/>
<circle cx="464.30" cy="484.60" r="5" fill="#FF2A00" stroke="none" stroke-width="0"/>
<circle cx="484.93" cy="466.19" r="5" fill="#FF2A00" stroke="none" stroke-width="0"/>
<circle cx="505.56" cy="448.28" r="5" fill="#FF2A00" stroke="none" stroke-width="0"/>
<circle cx="526.19" cy="436.13" r="5" fill="#FF2A00" stroke="none" stroke-width="0"/>
<circle cx="546.82" cy="424.73" r="5" fill="#FF2A00" stroke="none" stroke-width="0"/>
<circle cx="567.45" cy="394.92" r="5" fill="#FF2A00" stroke="none" stroke-width="0"/>
<circle cx="588.08" cy="373.75" r="5" fill="#FF2A00" stroke="none" stroke-width="0"/>
<circle cx="608.71" cy="287.46" r="5" fill="#FF2A00" stroke="none" stroke-width="0"/>
<line x1="464.00" y1="254.30" x2="484.20" y2="254.30" stroke="#000" stroke-width="1.2"/>
<circle cx="474.00" cy="254.30" r="5" fill="#000" stroke="none" stroke-width="0"/>
<line x1="464.00" y1="279.40" x2="484.20" y2="279.40" stroke="#FF2A00" stroke-width="1.2"/>
<circle cx="474.00" cy="279.40" r="5" fill="#FF2A00" stroke="none" stroke-width="0"/>
<text transform="translate(494.42,260.90) scale(0.1)" x="0" y="0" font-size="180.00" fill="#000" stroke="#000" stroke-width="2.50" textLength="229.76" lengthAdjust="spacingAndGlyphs">NT</text>
<text transform="translate(494.44,285.90) scale(0.1)" x="0" y="0" font-size="180.00" fill="#000" stroke="#000" stroke-width="2.50" textLength="462.24" lengthAdjust="spacingAndGlyphs">LSD1i</text>
<text transform="translate(-1.28,564.00) scale(0.1)" x="0" y="0" font-size="270.00" font-weight="bold" fill="#000" stroke="#000" stroke-width="3.00" textLength="209.72" lengthAdjust="spacingAndGlyphs">G</text>
<g transform="translate(-7.4,573.4) scale(1.0)">
<path d="M55,46.4 C53.5,48 52.6,50 52.5,51.9 C51.2,56 50.7,60 50.8,62.2 C50.4,67 50.3,70 50.5,72.5 C50.8,76 51.2,78 51.9,79.3 C53,81.5 54,83 55.3,84.1 C57,85.5 59,86.3 60.8,86.5 L65.6,86.9 L82.3,86.7 C81.7,85 80.7,83.8 79.3,83.1 C77,82.2 74,82.0 72.5,81.6 C74.5,80.2 76,78.5 76.6,77.3 C78,75 78.6,73.5 78.8,72.5 C79.2,69 79.3,67 79.3,65.6 C79.3,62 79.1,60 79.0,58 L79.3,51.9 C79.5,45 80,35 80.9,27.8 L80.9,26.8 C77,27.4 72,28.6 68.5,29.8 L64,38 L58,44 Z" fill="#1a1a1a"/>
<path d="M64.6,42.6 A11.8,12.8 0 0 1 48.9,40.3" fill="none" stroke="#fff" stroke-width="1.1"/>
<ellipse cx="58.2" cy="31.8" rx="9.3" ry="10.3" fill="#fff" stroke="#1a1a1a" stroke-width="3.1"/>
<circle cx="82.8" cy="26.2" r="2.0" fill="#1a1a1a"/>
<path d="M80.6,27.3 L81.6,28.2" stroke="#fff" stroke-width="0.6"/>
<ellipse cx="74.6" cy="32.8" rx="1.6" ry="1.35" fill="#fff"/>
<path d="M75.9,51.9 C79,52.3 83,52.2 86.2,52.3 C87.8,52.6 88.5,54 88.0,55.5 C87.7,56.8 87,57.6 86.2,57.8 C83.5,57.4 80,57.1 77.3,57.5 Z" fill="#1a1a1a"/>
<path d="M74.6,51.0 C74.6,53.5 75.5,56.2 78.2,58.5" fill="none" stroke="#fff" stroke-width="0.9"/>
<path d="M65.6,61.8 C69,63 72.5,66.5 73.4,71.1 C74,74.5 72.8,78.5 70.2,82.2" fill="none" stroke="#fff" stroke-width="0.9"/>
</g>
<line x1="61.70" y1="689.10" x2="323.80" y2="689.10" stroke="#000" stroke-width="2"/>
<line x1="62.40" y1="689.00" x2="62.40" y2="707.00" stroke="#000" stroke-width="2"/>
<path d="M58.60,706.00 L66.20,706.00 L62.40,713.20 Z" fill="#000" stroke="none" stroke-width="0"/>
<line x1="136.10" y1="689.00" x2="136.10" y2="709.90" stroke="#000" stroke-width="2"/>
<path d="M132.30,708.90 L139.90,708.90 L136.10,716.10 Z" fill="#000" stroke="none" stroke-width="0"/>
<line x1="187.00" y1="689.00" x2="187.00" y2="709.90" stroke="#000" stroke-width="2"/>
<path d="M183.20,708.90 L190.80,708.90 L187.00,716.10 Z" fill="#000" stroke="none" stroke-width="0"/>
<line x1="229.80" y1="689.00" x2="229.80" y2="709.90" stroke="#000" stroke-width="2"/>
<path d="M226.00,708.90 L233.60,708.90 L229.80,716.10 Z" fill="#000" stroke="none" stroke-width="0"/>
<line x1="323.00" y1="689.00" x2="323.00" y2="711.80" stroke="#000" stroke-width="2"/>
<path d="M319.20,710.80 L326.80,710.80 L323.00,718.00 Z" fill="#000" stroke="none" stroke-width="0"/>
<text transform="translate(55.84,684.70) scale(0.1)" x="0" y="0" font-size="177.00" fill="#000" stroke="#000" stroke-width="7.50" textLength="105.44" lengthAdjust="spacingAndGlyphs">0</text>
<text transform="translate(132.26,682.00) scale(0.1)" x="0" y="0" font-size="176.00" font-weight="bold" fill="#FF0000" stroke="#FF0000" stroke-width="1.00" textLength="100.91" lengthAdjust="spacingAndGlyphs">6</text>
<text transform="translate(164.38,682.00) scale(0.1)" x="0" y="0" font-size="176.00" font-weight="bold" fill="#FF0000" stroke="#FF0000" stroke-width="1.00" textLength="98.62" lengthAdjust="spacingAndGlyphs">9</text>
<text transform="translate(217.45,681.80) scale(0.1)" x="0" y="0" font-size="171.00" font-weight="bold" fill="#FF0000" stroke="#FF0000" stroke-width="1.00" textLength="205.27" lengthAdjust="spacingAndGlyphs">20</text>
<text transform="translate(295.38,681.80) scale(0.1)" x="0" y="0" font-size="171.00" font-weight="bold" fill="#000" stroke="#000" stroke-width="1.00" textLength="198.56" lengthAdjust="spacingAndGlyphs">24</text>
<line x1="132.90" y1="719.50" x2="235.90" y2="719.50" stroke="#FF5050" stroke-width="1"/>
<text transform="translate(165.83,739.50) scale(0.1)" x="0" y="0" font-size="170.00" font-weight="bold" fill="#FF0000" stroke="#FF0000" stroke-width="3.00" textLength="510.13" lengthAdjust="spacingAndGlyphs">LSD1i</text>
<line x1="134.60" y1="746.50" x2="187.70" y2="746.50" stroke="#C81818" stroke-width="1"/>
<text transform="translate(134.60,767.50) scale(0.1)" x="0" y="0" font-size="170.00" font-weight="bold" fill="#BE0000" stroke="#BE0000" stroke-width="3.00" textLength="558.63" lengthAdjust="spacingAndGlyphs">αPDL1</text>
<text transform="translate(1.94,727.90) scale(0.1)" x="0" y="0" font-size="177.00" font-weight="bold" fill="#8A3F0E" stroke="#8A3F0E" stroke-width="3.00" textLength="1178.89" lengthAdjust="spacingAndGlyphs">BP melanoma</text>
<text transform="translate(12.26,749.40) scale(0.1)" x="0" y="0" font-size="175.00" fill="#000" stroke="#000" stroke-width="2.50" textLength="989.53" lengthAdjust="spacingAndGlyphs">s.c. injection</text>
<text transform="translate(288.30,731.30) scale(0.1)" x="0" y="0" font-size="175.00" fill="#000" stroke="#000" stroke-width="2.50" textLength="660.99" lengthAdjust="spacingAndGlyphs">Analysis</text>
<text transform="translate(349.47,566.80) scale(0.1)" x="0" y="0" font-size="268.00" font-weight="bold" fill="#000" stroke="#000" stroke-width="3.00" textLength="181.16" lengthAdjust="spacingAndGlyphs">H</text>
<line x1="449.20" y1="559.20" x2="449.20" y2="819.60" stroke="#000" stroke-width="2"/>
<line x1="442.70" y1="818.60" x2="449.20" y2="818.60" stroke="#000" stroke-width="2"/>
<text transform="translate(430.59,824.60) scale(0.1)" x="0" y="0" font-size="169.00" fill="#000" stroke="#000" stroke-width="2.50" textLength="92.11" lengthAdjust="spacingAndGlyphs">0</text>
<line x1="442.70" y1="754.00" x2="449.20" y2="754.00" stroke="#000" stroke-width="2"/>
<text transform="translate(412.20,760.00) scale(0.1)" x="0" y="0" font-size="169.00" fill="#000" stroke="#000" stroke-width="2.50" textLength="276.34" lengthAdjust="spacingAndGlyphs">500</text>
<line x1="442.70" y1="689.40" x2="449.20" y2="689.40" stroke="#000" stroke-width="2"/>
<text transform="translate(402.93,695.40) scale(0.1)" x="0" y="0" font-size="169.00" fill="#000" stroke="#000" stroke-width="2.50" textLength="368.45" lengthAdjust="spacingAndGlyphs">1000</text>
<line x1="442.70" y1="624.80" x2="449.20" y2="624.80" stroke="#000" stroke-width="2"/>
<text transform="translate(402.93,630.80) scale(0.1)" x="0" y="0" font-size="169.00" fill="#000" stroke="#000" stroke-width="2.50" textLength="368.45" lengthAdjust="spacingAndGlyphs">1500</text>
<line x1="442.70" y1="560.20" x2="449.20" y2="560.20" stroke="#000" stroke-width="2"/>
<text transform="translate(402.93,566.20) scale(0.1)" x="0" y="0" font-size="169.00" fill="#000" stroke="#000" stroke-width="2.50" textLength="368.45" lengthAdjust="spacingAndGlyphs">2000</text>
<line x1="448.20" y1="818.60" x2="608.20" y2="818.60" stroke="#000" stroke-width="2"/>
<line x1="461.80" y1="818.60" x2="461.80" y2="825.00" stroke="#000" stroke-width="2"/>
<text transform="translate(457.07,845.30) scale(0.1)" x="0" y="0" font-size="169.00" fill="#000" stroke="#000" stroke-width="2.50" textLength="93.99" lengthAdjust="spacingAndGlyphs">0</text>
<line x1="481.10" y1="818.60" x2="481.10" y2="825.00" stroke="#000" stroke-width="2"/>
<text transform="translate(476.33,845.30) scale(0.1)" x="0" y="0" font-size="169.00" fill="#000" stroke="#000" stroke-width="2.50" textLength="93.99" lengthAdjust="spacingAndGlyphs">6</text>
<line x1="500.40" y1="818.60" x2="500.40" y2="825.00" stroke="#000" stroke-width="2"/>
<text transform="translate(495.71,845.30) scale(0.1)" x="0" y="0" font-size="169.00" fill="#000" stroke="#000" stroke-width="2.50" textLength="93.99" lengthAdjust="spacingAndGlyphs">9</text>
<line x1="519.70" y1="818.60" x2="519.70" y2="825.00" stroke="#000" stroke-width="2"/>
<text transform="translate(510.11,845.30) scale(0.1)" x="0" y="0" font-size="169.00" fill="#000" stroke="#000" stroke-width="2.50" textLength="187.99" lengthAdjust="spacingAndGlyphs">12</text>
<line x1="539.00" y1="818.60" x2="539.00" y2="825.00" stroke="#000" stroke-width="2"/>
<text transform="translate(529.32,845.30) scale(0.1)" x="0" y="0" font-size="169.00" fill="#000" stroke="#000" stroke-width="2.50" textLength="187.99" lengthAdjust="spacingAndGlyphs">15</text>
<line x1="558.30" y1="818.60" x2="558.30" y2="825.00" stroke="#000" stroke-width="2"/>
<text transform="translate(548.62,845.30) scale(0.1)" x="0" y="0" font-size="169.00" fill="#000" stroke="#000" stroke-width="2.50" textLength="187.99" lengthAdjust="spacingAndGlyphs">18</text>
<line x1="577.60" y1="818.60" x2="577.60" y2="825.00" stroke="#000" stroke-width="2"/>
<text transform="translate(568.18,845.30) scale(0.1)" x="0" y="0" font-size="169.00" fill="#000" stroke="#000" stroke-width="2.50" textLength="187.99" lengthAdjust="spacingAndGlyphs">21</text>
<line x1="596.90" y1="818.60" x2="596.90" y2="825.00" stroke="#000" stroke-width="2"/>
<text transform="translate(587.35,845.30) scale(0.1)" x="0" y="0" font-size="169.00" fill="#000" stroke="#000" stroke-width="2.50" textLength="187.99" lengthAdjust="spacingAndGlyphs">24</text>
<text transform="translate(512.97,867.30) scale(0.1)" x="0" y="0" font-size="154.00" fill="#000" stroke="#000" stroke-width="2.50" textLength="334.24" lengthAdjust="spacingAndGlyphs">days</text>
<text transform="translate(399.60,768.66) rotate(-90) scale(0.1)" x="0" y="0" font-size="180.00" fill="#000" stroke="#000" stroke-width="2.50" textLength="1535.36" lengthAdjust="spacingAndGlyphs">Tumor volume (mm</text>
<text transform="translate(392.90,615.14) rotate(-90) scale(0.1)" x="0" y="0" font-size="130.00" fill="#000" stroke="#000" stroke-width="2.50" textLength="74.94" lengthAdjust="spacingAndGlyphs">3</text>
<text transform="translate(399.60,606.69) rotate(-90) scale(0.1)" x="0" y="0" font-size="180.00" fill="#000" stroke="#000" stroke-width="2.50" textLength="57.81" lengthAdjust="spacingAndGlyphs">)</text>
<line x1="481.10" y1="800.45" x2="481.10" y2="804.45" stroke="#333" stroke-width="1.2"/>
<line x1="476.30" y1="800.45" x2="485.90" y2="800.45" stroke="#333" stroke-width="1.2"/>
<line x1="476.30" y1="804.45" x2="485.90" y2="804.45" stroke="#333" stroke-width="1.2"/>
<line x1="500.40" y1="794.51" x2="500.40" y2="798.51" stroke="#333" stroke-width="1.2"/>
<line x1="495.60" y1="794.51" x2="505.20" y2="794.51" stroke="#333" stroke-width="1.2"/>
<line x1="495.60" y1="798.51" x2="505.20" y2="798.51" stroke="#333" stroke-width="1.2"/>
<line x1="519.70" y1="760.24" x2="519.70" y2="770.24" stroke="#333" stroke-width="1.2"/>
<line x1="514.90" y1="760.24" x2="524.50" y2="760.24" stroke="#333" stroke-width="1.2"/>
<line x1="514.90" y1="770.24" x2="524.50" y2="770.24" stroke="#333" stroke-width="1.2"/>
<line x1="539.00" y1="756.91" x2="539.00" y2="771.51" stroke="#333" stroke-width="1.2"/>
<line x1="534.20" y1="756.91" x2="543.80" y2="756.91" stroke="#333" stroke-width="1.2"/>
<line x1="534.20" y1="771.51" x2="543.80" y2="771.51" stroke="#333" stroke-width="1.2"/>
<line x1="558.30" y1="732.26" x2="558.30" y2="761.26" stroke="#333" stroke-width="1.2"/>
<line x1="553.50" y1="732.26" x2="563.10" y2="732.26" stroke="#333" stroke-width="1.2"/>
<line x1="553.50" y1="761.26" x2="563.10" y2="761.26" stroke="#333" stroke-width="1.2"/>
<line x1="577.60" y1="696.91" x2="577.60" y2="720.91" stroke="#333" stroke-width="1.2"/>
<line x1="572.80" y1="696.91" x2="582.40" y2="696.91" stroke="#333" stroke-width="1.2"/>
<line x1="572.80" y1="720.91" x2="582.40" y2="720.91" stroke="#333" stroke-width="1.2"/>
<line x1="596.90" y1="612.96" x2="596.90" y2="630.96" stroke="#333" stroke-width="1.2"/>
<line x1="592.10" y1="612.96" x2="601.70" y2="612.96" stroke="#333" stroke-width="1.2"/>
<line x1="592.10" y1="630.96" x2="601.70" y2="630.96" stroke="#333" stroke-width="1.2"/>
<polyline points="461.80,818.60 481.10,802.45 500.40,796.51 519.70,765.24 539.00,764.21 558.30,746.76 577.60,708.91 596.90,621.96" fill="none" stroke="#000" stroke-width="1.8" stroke-dasharray="5.5,3"/>
<circle cx="461.80" cy="818.60" r="4.0" fill="none" stroke="#000" stroke-width="1.8"/>
<circle cx="481.10" cy="802.45" r="4.0" fill="none" stroke="#000" stroke-width="1.8"/>
<circle cx="500.40" cy="796.51" r="4.0" fill="none" stroke="#000" stroke-width="1.8"/>
<circle cx="519.70" cy="765.24" r="4.0" fill="none" stroke="#000" stroke-width="1.8"/>
<circle cx="539.00" cy="764.21" r="4.0" fill="none" stroke="#000" stroke-width="1.8"/>
<circle cx="558.30" cy="746.76" r="4.0" fill="none" stroke="#000" stroke-width="1.8"/>
<circle cx="577.60" cy="708.91" r="4.0" fill="none" stroke="#000" stroke-width="1.8"/>
<circle cx="596.90" cy="621.96" r="4.0" fill="none" stroke="#000" stroke-width="1.8"/>
<line x1="481.10" y1="797.87" x2="481.10" y2="801.87" stroke="#F04020" stroke-width="1.2"/>
<line x1="476.30" y1="797.87" x2="485.90" y2="797.87" stroke="#F04020" stroke-width="1.2"/>
<line x1="476.30" y1="801.87" x2="485.90" y2="801.87" stroke="#F04020" stroke-width="1.2"/>
<line x1="500.40" y1="777.10" x2="500.40" y2="783.10" stroke="#F04020" stroke-width="1.2"/>
<line x1="495.60" y1="777.10" x2="505.20" y2="777.10" stroke="#F04020" stroke-width="1.2"/>
<line x1="495.60" y1="783.10" x2="505.20" y2="783.10" stroke="#F04020" stroke-width="1.2"/>
<line x1="519.70" y1="763.86" x2="519.70" y2="773.86" stroke="#F04020" stroke-width="1.2"/>
<line x1="514.90" y1="763.86" x2="524.50" y2="763.86" stroke="#F04020" stroke-width="1.2"/>
<line x1="514.90" y1="773.86" x2="524.50" y2="773.86" stroke="#F04020" stroke-width="1.2"/>
<line x1="539.00" y1="741.08" x2="539.00" y2="757.88" stroke="#F04020" stroke-width="1.2"/>
<line x1="534.20" y1="741.08" x2="543.80" y2="741.08" stroke="#F04020" stroke-width="1.2"/>
<line x1="534.20" y1="757.88" x2="543.80" y2="757.88" stroke="#F04020" stroke-width="1.2"/>
<line x1="558.30" y1="704.94" x2="558.30" y2="731.74" stroke="#F04020" stroke-width="1.2"/>
<line x1="553.50" y1="704.94" x2="563.10" y2="704.94" stroke="#F04020" stroke-width="1.2"/>
<line x1="553.50" y1="731.74" x2="563.10" y2="731.74" stroke="#F04020" stroke-width="1.2"/>
<line x1="577.60" y1="684.99" x2="577.60" y2="714.99" stroke="#F04020" stroke-width="1.2"/>
<line x1="572.80" y1="684.99" x2="582.40" y2="684.99" stroke="#F04020" stroke-width="1.2"/>
<line x1="572.80" y1="714.99" x2="582.40" y2="714.99" stroke="#F04020" stroke-width="1.2"/>
<line x1="596.90" y1="587.50" x2="596.90" y2="631.10" stroke="#F04020" stroke-width="1.2"/>
<line x1="592.10" y1="587.50" x2="601.70" y2="587.50" stroke="#F04020" stroke-width="1.2"/>
<line x1="592.10" y1="631.10" x2="601.70" y2="631.10" stroke="#F04020" stroke-width="1.2"/>
<polyline points="461.80,818.60 481.10,799.87 500.40,780.10 519.70,768.86 539.00,749.48 558.30,718.34 577.60,699.99 596.90,609.30" fill="none" stroke="#FF2A00" stroke-width="1.8" stroke-dasharray="5.5,3"/>
<circle cx="461.80" cy="818.60" r="4.0" fill="#FF2A00" stroke="#000" stroke-width="1.8"/>
<circle cx="481.10" cy="799.87" r="4.0" fill="#FF2A00" stroke="#000" stroke-width="1.8"/>
<circle cx="500.40" cy="780.10" r="4.0" fill="#FF2A00" stroke="#000" stroke-width="1.8"/>
<circle cx="519.70" cy="768.86" r="4.0" fill="#FF2A00" stroke="#000" stroke-width="1.8"/>
<circle cx="539.00" cy="749.48" r="4.0" fill="#FF2A00" stroke="#000" stroke-width="1.8"/>
<circle cx="558.30" cy="718.34" r="4.0" fill="#FF2A00" stroke="#000" stroke-width="1.8"/>
<circle cx="577.60" cy="699.99" r="4.0" fill="#FF2A00" stroke="#000" stroke-width="1.8"/>
<circle cx="596.90" cy="609.30" r="4.0" fill="#FF2A00" stroke="#000" stroke-width="1.8"/>
<line x1="481.10" y1="798.51" x2="481.10" y2="802.51" stroke="#A0A0A0" stroke-width="1.2"/>
<line x1="476.30" y1="798.51" x2="485.90" y2="798.51" stroke="#A0A0A0" stroke-width="1.2"/>
<line x1="476.30" y1="802.51" x2="485.90" y2="802.51" stroke="#A0A0A0" stroke-width="1.2"/>
<line x1="500.40" y1="789.11" x2="500.40" y2="795.11" stroke="#A0A0A0" stroke-width="1.2"/>
<line x1="495.60" y1="789.11" x2="505.20" y2="789.11" stroke="#A0A0A0" stroke-width="1.2"/>
<line x1="495.60" y1="795.11" x2="505.20" y2="795.11" stroke="#A0A0A0" stroke-width="1.2"/>
<line x1="519.70" y1="750.18" x2="519.70" y2="769.18" stroke="#A0A0A0" stroke-width="1.2"/>
<line x1="514.90" y1="750.18" x2="524.50" y2="750.18" stroke="#A0A0A0" stroke-width="1.2"/>
<line x1="514.90" y1="769.18" x2="524.50" y2="769.18" stroke="#A0A0A0" stroke-width="1.2"/>
<line x1="539.00" y1="746.07" x2="539.00" y2="766.07" stroke="#A0A0A0" stroke-width="1.2"/>
<line x1="534.20" y1="746.07" x2="543.80" y2="746.07" stroke="#A0A0A0" stroke-width="1.2"/>
<line x1="534.20" y1="766.07" x2="543.80" y2="766.07" stroke="#A0A0A0" stroke-width="1.2"/>
<line x1="558.30" y1="731.66" x2="558.30" y2="755.66" stroke="#A0A0A0" stroke-width="1.2"/>
<line x1="553.50" y1="731.66" x2="563.10" y2="731.66" stroke="#A0A0A0" stroke-width="1.2"/>
<line x1="553.50" y1="755.66" x2="563.10" y2="755.66" stroke="#A0A0A0" stroke-width="1.2"/>
<line x1="577.60" y1="662.74" x2="577.60" y2="726.14" stroke="#A0A0A0" stroke-width="1.2"/>
<line x1="572.80" y1="662.74" x2="582.40" y2="662.74" stroke="#A0A0A0" stroke-width="1.2"/>
<line x1="572.80" y1="726.14" x2="582.40" y2="726.14" stroke="#A0A0A0" stroke-width="1.2"/>
<line x1="596.90" y1="594.44" x2="596.90" y2="671.44" stroke="#A0A0A0" stroke-width="1.2"/>
<line x1="592.10" y1="594.44" x2="601.70" y2="594.44" stroke="#A0A0A0" stroke-width="1.2"/>
<line x1="592.10" y1="671.44" x2="601.70" y2="671.44" stroke="#A0A0A0" stroke-width="1.2"/>
<polyline points="461.80,818.60 481.10,800.51 500.40,792.11 519.70,759.68 539.00,756.07 558.30,743.66 577.60,694.44 596.90,632.94" fill="none" stroke="#A8A8A8" stroke-width="1.8" stroke-dasharray="5.5,3"/>
<circle cx="461.80" cy="818.60" r="4.0" fill="#999999" stroke="#000" stroke-width="1.8"/>
<circle cx="481.10" cy="800.51" r="4.0" fill="#999999" stroke="#000" stroke-width="1.8"/>
<circle cx="500.40" cy="792.11" r="4.0" fill="#999999" stroke="#000" stroke-width="1.8"/>
<circle cx="519.70" cy="759.68" r="4.0" fill="#999999" stroke="#000" stroke-width="1.8"/>
<circle cx="539.00" cy="756.07" r="4.0" fill="#999999" stroke="#000" stroke-width="1.8"/>
<circle cx="558.30" cy="743.66" r="4.0" fill="#999999" stroke="#000" stroke-width="1.8"/>
<circle cx="577.60" cy="694.44" r="4.0" fill="#999999" stroke="#000" stroke-width="1.8"/>
<circle cx="596.90" cy="632.94" r="4.0" fill="#999999" stroke="#000" stroke-width="1.8"/>
<line x1="481.10" y1="798.37" x2="481.10" y2="801.37" stroke="#A83020" stroke-width="1.2"/>
<line x1="476.30" y1="798.37" x2="485.90" y2="798.37" stroke="#A83020" stroke-width="1.2"/>
<line x1="476.30" y1="801.37" x2="485.90" y2="801.37" stroke="#A83020" stroke-width="1.2"/>
<line x1="500.40" y1="789.86" x2="500.40" y2="793.86" stroke="#A83020" stroke-width="1.2"/>
<line x1="495.60" y1="789.86" x2="505.20" y2="789.86" stroke="#A83020" stroke-width="1.2"/>
<line x1="495.60" y1="793.86" x2="505.20" y2="793.86" stroke="#A83020" stroke-width="1.2"/>
<line x1="519.70" y1="764.53" x2="519.70" y2="777.33" stroke="#A83020" stroke-width="1.2"/>
<line x1="514.90" y1="764.53" x2="524.50" y2="764.53" stroke="#A83020" stroke-width="1.2"/>
<line x1="514.90" y1="777.33" x2="524.50" y2="777.33" stroke="#A83020" stroke-width="1.2"/>
<line x1="539.00" y1="778.56" x2="539.00" y2="788.36" stroke="#A83020" stroke-width="1.2"/>
<line x1="534.20" y1="778.56" x2="543.80" y2="778.56" stroke="#A83020" stroke-width="1.2"/>
<line x1="534.20" y1="788.36" x2="543.80" y2="788.36" stroke="#A83020" stroke-width="1.2"/>
<line x1="558.30" y1="759.10" x2="558.30" y2="782.50" stroke="#A83020" stroke-width="1.2"/>
<line x1="553.50" y1="759.10" x2="563.10" y2="759.10" stroke="#A83020" stroke-width="1.2"/>
<line x1="553.50" y1="782.50" x2="563.10" y2="782.50" stroke="#A83020" stroke-width="1.2"/>
<line x1="577.60" y1="747.96" x2="577.60" y2="768.56" stroke="#A83020" stroke-width="1.2"/>
<line x1="572.80" y1="747.96" x2="582.40" y2="747.96" stroke="#A83020" stroke-width="1.2"/>
<line x1="572.80" y1="768.56" x2="582.40" y2="768.56" stroke="#A83020" stroke-width="1.2"/>
<line x1="596.90" y1="693.84" x2="596.90" y2="741.04" stroke="#A83020" stroke-width="1.2"/>
<line x1="592.10" y1="693.84" x2="601.70" y2="693.84" stroke="#A83020" stroke-width="1.2"/>
<line x1="592.10" y1="741.04" x2="601.70" y2="741.04" stroke="#A83020" stroke-width="1.2"/>
<polyline points="461.80,818.60 481.10,799.87 500.40,791.86 519.70,770.93 539.00,783.46 558.30,770.80 577.60,758.26 596.90,717.44" fill="none" stroke="#8E1506" stroke-width="2" stroke-dasharray="5.5,3"/>
<circle cx="461.80" cy="818.60" r="4.0" fill="#8E1506" stroke="#000" stroke-width="1.8"/>
<circle cx="481.10" cy="799.87" r="4.0" fill="#8E1506" stroke="#000" stroke-width="1.8"/>
<circle cx="500.40" cy="791.86" r="4.0" fill="#8E1506" stroke="#000" stroke-width="1.8"/>
<circle cx="519.70" cy="770.93" r="4.0" fill="#8E1506" stroke="#000" stroke-width="1.8"/>
<circle cx="539.00" cy="783.46" r="4.0" fill="#8E1506" stroke="#000" stroke-width="1.8"/>
<circle cx="558.30" cy="770.80" r="4.0" fill="#8E1506" stroke="#000" stroke-width="1.8"/>
<circle cx="577.60" cy="758.26" r="4.0" fill="#8E1506" stroke="#000" stroke-width="1.8"/>
<circle cx="596.90" cy="717.44" r="4.0" fill="#8E1506" stroke="#000" stroke-width="1.8"/>
<line x1="453.00" y1="571.60" x2="456.50" y2="571.60" stroke="#000" stroke-width="1.6"/>
<line x1="469.50" y1="571.60" x2="472.80" y2="571.60" stroke="#000" stroke-width="1.6"/>
<line x1="459.00" y1="571.60" x2="467.00" y2="571.60" stroke="#000" stroke-width="1.6"/>
<circle cx="463.20" cy="571.60" r="4.0" fill="none" stroke="#000" stroke-width="1.8"/>
<line x1="453.00" y1="588.00" x2="456.50" y2="588.00" stroke="#FF2A00" stroke-width="1.6"/>
<line x1="469.50" y1="588.00" x2="472.80" y2="588.00" stroke="#FF2A00" stroke-width="1.6"/>
<circle cx="463.20" cy="588.00" r="4.0" fill="#FF2A00" stroke="#000" stroke-width="1.8"/>
<line x1="453.00" y1="606.00" x2="456.50" y2="606.00" stroke="#A8A8A8" stroke-width="1.6"/>
<line x1="469.50" y1="606.00" x2="472.80" y2="606.00" stroke="#A8A8A8" stroke-width="1.6"/>
<circle cx="463.20" cy="606.00" r="4.0" fill="#999999" stroke="#000" stroke-width="1.8"/>
<line x1="453.00" y1="621.30" x2="456.50" y2="621.30" stroke="#8E1506" stroke-width="1.6"/>
<line x1="469.50" y1="621.30" x2="472.80" y2="621.30" stroke="#8E1506" stroke-width="1.6"/>
<circle cx="463.20" cy="621.30" r="4.0" fill="#8E1506" stroke="#000" stroke-width="1.8"/>
<text transform="translate(481.99,578.00) scale(0.1)" x="0" y="0" font-size="158.00" fill="#000" stroke="#000" stroke-width="2.50" textLength="218.92" lengthAdjust="spacingAndGlyphs">NT</text>
<text transform="translate(482.00,594.00) scale(0.1)" x="0" y="0" font-size="158.00" fill="#000" stroke="#000" stroke-width="2.50" textLength="443.20" lengthAdjust="spacingAndGlyphs">LSD1i</text>
<text transform="translate(482.48,612.60) scale(0.1)" x="0" y="0" font-size="158.00" fill="#000" stroke="#000" stroke-width="2.50" textLength="478.15" lengthAdjust="spacingAndGlyphs">αPDL1</text>
<text transform="translate(482.03,628.20) scale(0.1)" x="0" y="0" font-size="158.00" fill="#000" stroke="#000" stroke-width="2.50" textLength="1010.15" lengthAdjust="spacingAndGlyphs">LSD1i+αPDL1</text>
<path d="M607.3,632.6 L616.1,632.6 L616.1,717.1 L607.3,717.1" fill="none" stroke="#000" stroke-width="2.4"/>
<text transform="translate(621.97,688.12) scale(0.1)" x="0" y="0" font-size="256.80" font-weight="bold" fill="#000" stroke="#000" stroke-width="3.00" textLength="200.13" lengthAdjust="spacingAndGlyphs">**</text>
</svg>
</body></html>
